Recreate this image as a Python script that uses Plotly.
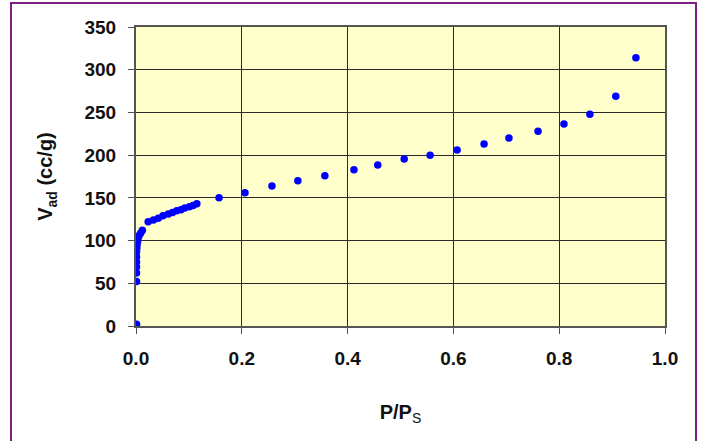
import plotly.graph_objects as go

# Relative pressure P/Ps and adsorbed volume (cc/g)
p_rel = [0.001, 0.001, 0.001, 0.001, 0.001, 0.001, 0.001, 0.0015, 0.002, 0.003,
         0.004, 0.006, 0.009, 0.012,
         0.023, 0.033, 0.042, 0.051, 0.061, 0.069, 0.077, 0.085, 0.092, 0.101, 0.108, 0.115,
         0.157, 0.206, 0.257, 0.306, 0.357, 0.412, 0.457, 0.507, 0.556, 0.607,
         0.658, 0.705, 0.760, 0.809, 0.858, 0.907, 0.945]
v_ad = [2, 52, 62, 69, 75, 81, 87, 91, 95, 99,
        103, 106, 109, 112,
        122, 124, 126, 129, 131, 133, 135, 136, 138, 139.5, 141, 143,
        150, 156, 164, 170, 176, 183, 188.5, 195.5, 200, 206,
        213, 220, 228, 236.5, 248, 269, 314]

x_ticks = [0.0, 0.2, 0.4, 0.6, 0.8, 1.0]
y_ticks = [0, 50, 100, 150, 200, 250, 300, 350]

W, H = 708, 441
L, R, T, B = 136, 43, 27, 115
pw, ph = W - L - R, H - T - B

fig = go.Figure()
fig.add_trace(go.Scatter(
    x=p_rel, y=v_ad, mode="markers",
    marker=dict(color="#0000FF", size=7.5, line=dict(width=0)),
    showlegend=False,
))

font_family = "Liberation Sans, Arial, sans-serif"
fig.update_layout(
    width=W, height=H,
    margin=dict(l=L, r=R, t=T, b=B),
    paper_bgcolor="white",
    plot_bgcolor="#FFFFCC",
    font=dict(family=font_family, color="#111111"),
    xaxis=dict(
        range=[0, 1], tickvals=x_ticks, ticktext=[f"<b>{v:.1f}</b>" for v in x_ticks],
        showgrid=True, gridcolor="#2a2a2a", gridwidth=1,
        zeroline=False, showline=True, linecolor="#555555", linewidth=2, mirror=True,
        ticks="outside", ticklen=6, tickcolor="#555555",
        ticklabelstandoff=8,
        tickfont=dict(size=19, family=font_family),
        title=dict(text="<b>P/P</b><sub>S</sub>", font=dict(size=20, family=font_family), standoff=37),
    ),
    yaxis=dict(
        range=[0, 350], tickvals=y_ticks, ticktext=[f"<b>{v}</b>" for v in y_ticks],
        showgrid=True, gridcolor="#2a2a2a", gridwidth=1,
        zeroline=False, showline=True, linecolor="#555555", linewidth=2, mirror=True,
        ticks="outside", ticklen=6, tickcolor="#555555",
        ticklabelstandoff=8,
        tickfont=dict(size=19, family=font_family),
        title=dict(text="<b>V<sub>ad</sub> (cc/g)</b>", font=dict(size=20, family=font_family), standoff=26),
    ),
)

# Purple outer frame (paper coordinates relative to plot area)
x0 = (11 - L) / pw
x1 = (696 - L) / pw
y1 = (H - B - 3) / ph
y0 = (H - B - 450) / ph
fig.add_shape(type="rect", xref="paper", yref="paper", x0=x0, x1=x1, y0=y0, y1=y1,
              line=dict(color="#7B1F80", width=2), fillcolor="rgba(0,0,0,0)", layer="below")

fig.write_html("out.html",
               config={"displayModeBar": False},
               post_script="document.body.style.margin='0';document.body.style.overflow='hidden';")
